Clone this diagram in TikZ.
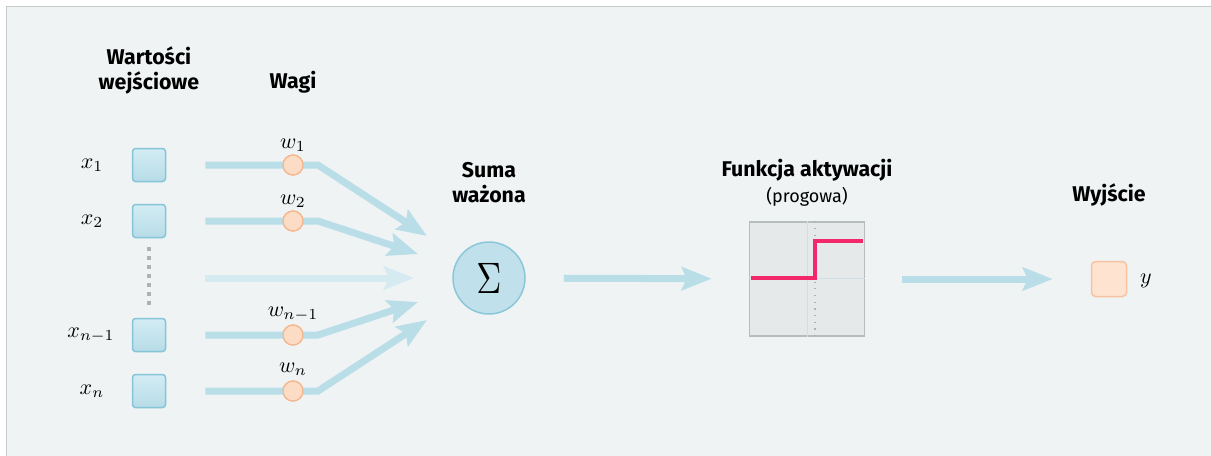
\documentclass[tikz,border=0pt]{standalone}
\usepackage{fontspec}
\setmainfont{Fira Sans}
\usetikzlibrary{arrows.meta}
\newcommand{\mlab}[1]{\scalebox{1.65}{$#1$}}
\definecolor{bgc}{HTML}{EFF3F4}
\definecolor{panelb}{HTML}{C5CACC}
\definecolor{flow}{HTML}{B9DEE8}
\definecolor{flowl}{HTML}{D5EAF1}
\definecolor{sqtop}{HTML}{D3ECF3}
\definecolor{sqbot}{HTML}{B6DCE7}
\definecolor{sqb}{HTML}{86C4D7}
\definecolor{wfill}{HTML}{FDDCC5}
\definecolor{wdraw}{HTML}{F4B68C}
\definecolor{sigf}{HTML}{C0E1EB}
\definecolor{sigb}{HTML}{8CC7D9}
\definecolor{actf}{HTML}{E6E9EA}
\definecolor{actb}{HTML}{B7BCBE}
\definecolor{gridl}{HTML}{D2DEE4}
\definecolor{stepc}{HTML}{F2286A}
\definecolor{outf}{HTML}{FEE3D1}
\definecolor{outb}{HTML}{F8C49F}
\definecolor{dotc}{HTML}{AEB2B4}
\begin{document}
\begin{tikzpicture}[x=0.75pt,y=-0.75pt,
  heading/.style={font=\bfseries\fontsize{16}{18.75}\selectfont, align=center, inner sep=0pt},
  sub/.style={font=\fontsize{13.5}{16}\selectfont, inner sep=0pt},
  mlabel/.style={inner sep=0pt},
  insq/.style={draw=sqb, line width=1.125pt, rounded corners=2.25pt, top color=sqtop, bottom color=sqbot, minimum size=24.75pt, inner sep=0pt},
  wcirc/.style={circle, draw=wdraw, line width=0.9pt, fill=wfill, minimum size=15pt, inner sep=0pt},
  flowline/.style={draw=flow, line width=5.25pt, -{Stealth[length=22.5pt, width=17.25pt, inset=3.75pt]}},
]
\useasboundingbox (0,0) rectangle (1211,455);
\clip (0,0) rectangle (1211,455);
\fill[white] (0,0) rectangle (1211,455);
\draw[fill=bgc, draw=panelb, line width=1.125pt] (6.5,6.5) rectangle (1230,480);

% headings
\node[heading] (hin) at (149,70) {Wartości\\wejściowe};
\node[heading] (hw) at (293,82) {Wagi};
\node[heading] (hsum) at (489,183) {Suma\\ważona};
\node[heading] (hact) at (807,170) {Funkcja aktywacji};
\node[sub] (hprog) at (807,197) {(progowa)};
\node[heading] (hout) at (1109,195) {Wyjście};

% inputs
\node[insq] (in1) at (149,165) {};
\node[insq] (in2) at (149,221) {};
\node[insq] (in3) at (149,335) {};
\node[insq] (in4) at (149,391) {};
\node[mlabel] (lx1) at (92,165) {\mlab{x_1}};
\node[mlabel] (lx2) at (92,221) {\mlab{x_2}};
\node[mlabel] (lx3) at (91,335) {\mlab{x_{n-1}}};
\node[mlabel] (lx4) at (92,391) {\mlab{x_n}};
\draw[dotc, line width=2.625pt, dash pattern=on 2.625pt off 4.125pt] ([yshift=-6.75pt]in2.south) -- ([yshift=7.5pt]in3.north);

% weights
\node[wcirc] (w1) at (293,165) {};
\node[wcirc] (w2) at (293,221) {};
\node[wcirc] (w3) at (293,335) {};
\node[wcirc] (w4) at (293,391) {};
\node[mlabel] (lw1) at (293,145) {\mlab{w_1}};
\node[mlabel] (lw2) at (293,201) {\mlab{w_2}};
\node[mlabel] (lw3) at (293,314) {\mlab{w_{n-1}}};
\node[mlabel] (lw4) at (293,369) {\mlab{w_n}};

\coordinate (t1) at (427,236);
\coordinate (t2) at (418,254);
\coordinate (tm) at (414,278);
\coordinate (t3) at (418,302);
\coordinate (t4) at (427,320);
\coordinate (m0) at (205,278);

\draw[flowline] ([xshift=29.25pt]in1.east) -- (w1.center) -- ++(25,0) -- (t1);
\draw[flowline] ([xshift=29.25pt]in2.east) -- (w2.center) -- ++(25,0) -- (t2);
\draw[flowline, draw=flowl] (m0) -- (tm);
\draw[flowline] ([xshift=29.25pt]in3.east) -- (w3.center) -- ++(25,0) -- (t3);
\draw[flowline] ([xshift=29.25pt]in4.east) -- (w4.center) -- ++(25,0) -- (t4);
% redraw circles on top
\node[wcirc] at (w1) {};
\node[wcirc] at (w2) {};
\node[wcirc] at (w3) {};
\node[wcirc] at (w4) {};

% sigma
\node[circle, draw=sigb, line width=1.125pt, fill=sigf, minimum size=54pt, inner sep=0pt] (sig) at (489,278) {\scalebox{2.6}[3.3]{$\Sigma$}};

% activation box
\node[draw=actb, line width=1.125pt, fill=actf, minimum width=86.25pt, minimum height=85.5pt, inner sep=0pt] (act) at (807,279) {};
\draw[gridl, line width=0.75pt] (act.north) -- (act.south);
\draw[gridl, line width=0.75pt] (act.west |- 0,278) -- (act.east |- 0,278);
\draw[dotc, line width=0.9pt, dash pattern=on 0.9pt off 4.125pt] ([xshift=6pt]act.north) -- ([xshift=6pt]act.south);
\draw[stepc, line width=2.625pt] (751,278) -- (815,278) -- (815,241) -- (863,241);

% output
\node[draw=outb, line width=1.125pt, rounded corners=3pt, fill=outf, minimum size=26.25pt, inner sep=0pt] (out) at (1109,279) {};
\node[mlabel] (ly) at (1146,281) {\mlab{y}};

\draw[flowline, shorten <=28.5pt, shorten >=27.75pt] (sig) -- (act);
\draw[flowline, shorten <=27.75pt, shorten >=28.5pt] (act.east) -- (out.west);
\end{tikzpicture}
\end{document}
